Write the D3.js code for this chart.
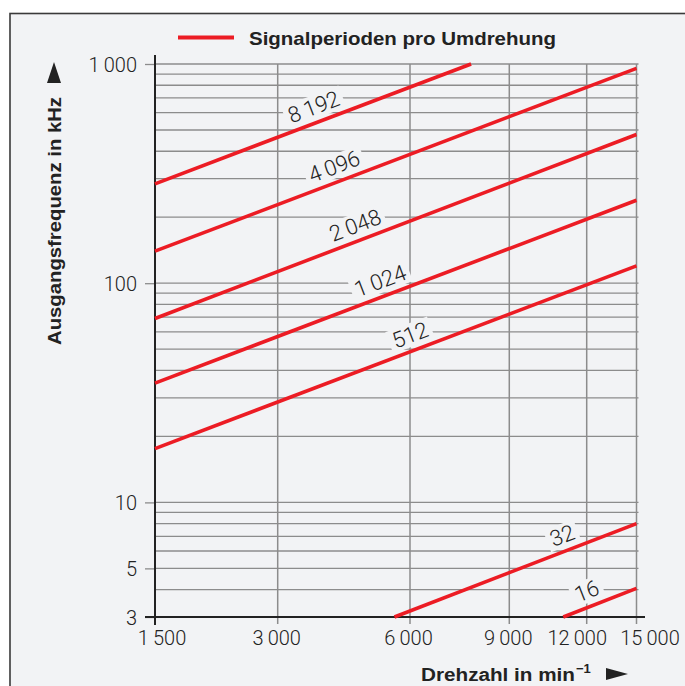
<!DOCTYPE html>
<html>
<head>
<meta charset="utf-8">
<script src="https://cdn.jsdelivr.net/npm/d3@7"></script>
<style>
  html, body { margin: 0; padding: 0; background: #fff; }
  svg { display: block; }
</style>
</head>
<body>
<svg id="chart" width="685" height="686"></svg>
<script>
// data
const periods = [8192, 4096, 2048, 1024, 512, 32, 16];
const startRpm = [1500, 1500, 1500, 1500, 1500, 5530, 11000];
const startKhz = [284, 140, 69, 35, 17.6, 3, 3];
const endRpm = [7700, 15000, 15000, 15000, 15000, 15000, 15000];
const endKhz = [1000, 955, 477, 239, 120, 8, 4.05];
const labelRpm = [3620, 4030, 4500, 5130, 6000, 10950, 12000];

const xTicks = [1500, 3000, 6000, 9000, 12000, 15000];
const yTickLabels = [3, 5, 10, 100, 1000];

const svg = d3.select("#chart");
const bg = "#f2f3f5";
const red = "#ec1c24";
const ink = "#222";
const gridCol = "#8c8c8c";

// frame
svg.append("rect").attr("x", 10).attr("y", 13.5).attr("width", 700).attr("height", 700)
  .attr("fill", bg).attr("stroke", "#3a3a3a").attr("stroke-width", 1.6);

const fmt = d3.formatLocale({ decimal: ",", thousands: "\u2009", grouping: [3], currency: ["", ""] }).format(",");

// x axis is not a clean log scale in the original, so the ticks are pinned piecewise
const x = d3.scaleLog().domain(xTicks).range([155, 277.7, 410, 509.3, 586.7, 636.5]);
const y = d3.scaleLog().domain([3, 1000]).range([617, 64]);

const g = svg.append("g");

// horizontal grid
g.selectAll(".hgrid").data(y.ticks()).join("line")
  .attr("x1", x(1500)).attr("x2", 638.5)
  .attr("y1", d => y(d)).attr("y2", d => y(d))
  .attr("stroke", gridCol).attr("stroke-width", 1.3);

// vertical grid
g.selectAll(".vgrid").data(xTicks.slice(1)).join("line")
  .attr("x1", d => x(d)).attr("x2", d => x(d))
  .attr("y1", y(1000)).attr("y2", 624)
  .attr("stroke", gridCol).attr("stroke-width", 1.5);

// y axis ticks + labels
const yAxis = g.append("g").attr("transform", `translate(${x(1500)},0)`)
  .call(d3.axisLeft(y).tickValues(yTickLabels).tickSize(10).tickPadding(8).tickFormat(fmt));
yAxis.select(".domain").remove();
yAxis.selectAll(".tick line").attr("stroke", gridCol).attr("stroke-width", 1.3);
yAxis.selectAll(".tick text")
  .attr("fill", ink).attr("font-family", "Roboto, 'Liberation Sans', sans-serif")
  .attr("font-weight", 300).attr("font-size", 20).attr("dy", "0.36em");

// x axis labels
const xShift = { 1500: 6.5, 3000: -1.5, 6000: -2, 9000: -1.5, 12000: -10, 15000: 13 };
const xAxis = g.append("g").attr("transform", `translate(0,${y(3)})`)
  .call(d3.axisBottom(x).tickValues(xTicks).tickSize(0).tickPadding(14).tickFormat(fmt));
xAxis.select(".domain").remove();
xAxis.selectAll(".tick text")
  .attr("fill", ink).attr("font-family", "Roboto, 'Liberation Sans', sans-serif")
  .attr("font-weight", 300).attr("font-size", 20).attr("dy", "0.71em")
  .attr("dx", d => xShift[d]);

// axis lines
g.append("line").attr("x1", 145).attr("x2", 645).attr("y1", y(3)).attr("y2", y(3))
  .attr("stroke", ink).attr("stroke-width", 2);
g.append("line").attr("x1", x(1500)).attr("x2", x(1500)).attr("y1", 55).attr("y2", 625)
  .attr("stroke", ink).attr("stroke-width", 2);

// lines
const rows = periods.map((p, i) => ({
  p,
  a: [x(startRpm[i]), y(startKhz[i])],
  b: [x(endRpm[i]), y(endKhz[i])],
  lx: x(labelRpm[i])
}));

const line = d3.line();
g.selectAll(".series").data(rows).join("path")
  .attr("d", d => line([d.a, d.b]))
  .attr("fill", "none").attr("stroke", red).attr("stroke-width", 3.6);

// labels along lines, on a little background box that cuts the grid
rows.forEach(d => {
  const t = (d.lx - d.a[0]) / (d.b[0] - d.a[0]);
  const ly = d.a[1] + t * (d.b[1] - d.a[1]) - 17;
  const ang = Math.atan2(d.b[1] - d.a[1], d.b[0] - d.a[0]) * 180 / Math.PI;
  const lg = g.append("g").attr("transform", `translate(${d.lx},${ly}) rotate(${ang})`);
  const box = lg.append("rect").attr("fill", bg);
  const txt = lg.append("text")
    .attr("text-anchor", "middle").attr("dy", "0.36em")
    .attr("font-family", "Roboto, 'Liberation Sans', sans-serif")
    .attr("font-weight", 300).attr("font-size", 22)
    .attr("fill", ink)
    .text(fmt(d.p));
  const bb = txt.node().getBBox();
  box.attr("x", bb.x - 4).attr("y", bb.y + 1).attr("width", bb.width + 8).attr("height", bb.height - 2);
});

// legend
svg.append("line").attr("x1", 178).attr("x2", 234).attr("y1", 37.5).attr("y2", 37.5)
  .attr("stroke", red).attr("stroke-width", 4);
svg.append("text").attr("x", 249).attr("y", 44.5)
  .attr("font-family", "'Liberation Sans', Arial, sans-serif").attr("font-weight", "bold")
  .attr("font-size", 19).attr("fill", ink)
  .attr("textLength", 307).attr("lengthAdjust", "spacingAndGlyphs")
  .text("Signalperioden pro Umdrehung");

// y title
svg.append("path").attr("d", "M54,62 L61,83 L47,83 Z").attr("fill", ink);
svg.append("text").attr("transform", "translate(61,345) rotate(-90)")
  .attr("font-family", "'Liberation Sans', Arial, sans-serif").attr("font-weight", "bold")
  .attr("font-size", 18).attr("fill", ink)
  .attr("textLength", 248).attr("lengthAdjust", "spacingAndGlyphs")
  .text("Ausgangsfrequenz in kHz");

// x title
const xt = svg.append("text").attr("x", 421).attr("y", 681)
  .attr("font-family", "'Liberation Sans', Arial, sans-serif").attr("font-weight", "bold")
  .attr("font-size", 18).attr("fill", ink);
xt.append("tspan").attr("textLength", 154).attr("lengthAdjust", "spacingAndGlyphs").text("Drehzahl in min");
xt.append("tspan").attr("dx", 1).attr("dy", -8).attr("font-size", 13).text("\u22121");
svg.append("path").attr("d", "M606,668 L628,674 L606,680 Z").attr("fill", ink);
</script>
</body>
</html>
